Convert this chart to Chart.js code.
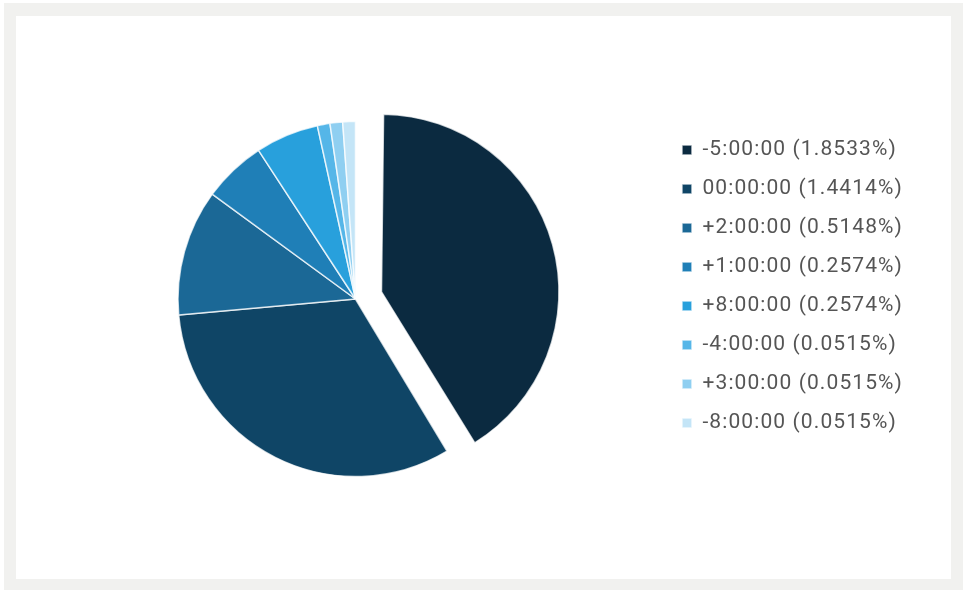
<!DOCTYPE html>
<html>
<head>
<meta charset="utf-8">
<script src="https://cdn.jsdelivr.net/npm/chart.js@4"></script>
<style>
  html, body { margin: 0; padding: 0; background: #fff; }
  #frame { position: absolute; left: 4px; top: 3px; width: 959px; height: 587px; background: #f1f1ef; }
  #panel { position: absolute; left: 12px; top: 13px; width: 935px; height: 563px; background: #fff; }
</style>
</head>
<body>
<div id="frame">
  <div id="panel"><canvas id="mycanvas" width="935" height="563"></canvas></div>
</div>
<script>
var labels = ["-5:00:00", "00:00:00", "+2:00:00", "+1:00:00", "+8:00:00", "-4:00:00", "+3:00:00", "-8:00:00"];
var shares = [1.8533, 1.4414, 0.5148, 0.2574, 0.2574, 0.0515, 0.0515, 0.0515];
var colors = ["#0b2a40", "#0f4566", "#1b6896", "#1f7fb7", "#28a0dc", "#55b6e8", "#8fcff1", "#c4e5f7"];
// chart.js moves a slice by offset/4
var offsets = [108, 0, 0, 0, 0, 0, 0, 0];
var pieRadius = 177.5;

var legendText = [];
for (var i in labels) {
	legendText.push(labels[i] + " (" + shares[i].toFixed(4) + "%)");
}

// wider legend text, like the original
var spacingPlugin = {
	id: 'letterspace',
	beforeLayout: function(chart) { chart.ctx.letterSpacing = "1.1px"; },
	beforeDraw: function(chart) { chart.ctx.letterSpacing = "1.1px"; }
};

// chart.js also grows the radius of an offset slice, take that back out
var keepRadius = {
	id: 'keepradius',
	afterDatasetsUpdate: function(chart) {
		var arcs = chart.getDatasetMeta(0).data;
		for (var i = 0; i < arcs.length; i++) {
			var fix = 1 - Math.sin(Math.min(Math.PI, arcs[i].circumference));
			arcs[i].outerRadius = pieRadius - offsets[i] / 4 * fix;
		}
	}
};

var ctx = document.getElementById("mycanvas");
var pie = new Chart(ctx, {
	type: 'pie',
	plugins: [spacingPlugin, keepRadius],
	data: {
		labels: legendText,
		datasets: [{
			data: shares,
			backgroundColor: colors,
			borderColor: "rgba(255, 255, 255, 0.75)",
			borderWidth: 1.5,
			offset: offsets,
			hoverOffset: 0,
			radius: pieRadius
		}]
	},
	options: {
		responsive: false,
		animation: false,
		layout: { padding: { left: 31, right: 38, top: 105.5, bottom: 102.5 } },
		plugins: {
			tooltip: { enabled: false },
			legend: {
				position: 'right',
				align: 'start',
				labels: {
					boxWidth: 10,
					boxHeight: 10,
					padding: 18,
					color: "#555555",
					font: { family: "Roboto", size: 21 }
				}
			}
		}
	}
});
</script>
</body>
</html>
